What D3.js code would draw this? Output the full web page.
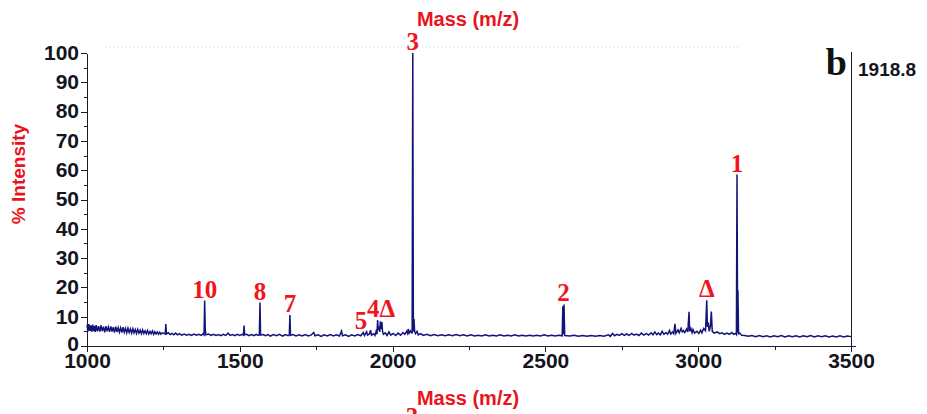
<!DOCTYPE html>
<html>
<head>
  <script src="https://d3js.org/d3.v7.min.js"></script>
  <style>
    body { margin: 0; background: #fff; }
    svg { display: block; }
    .axis path, .axis line { stroke: #1c1c28; fill: none; shape-rendering: crispEdges; }
    .axis text { font: bold 21px "Liberation Sans", Arial, sans-serif; fill: #14141e; }
    .red-title { font: bold 20px "Liberation Sans", Arial, sans-serif; fill: #e8141c; }
    .peak-label { font: bold 25px "Liberation Serif", "Times New Roman", serif; fill: #f0141c; }
  </style>
</head>
<body>
  <div id="chart"></div>

  <script>
    // spectrum, [m/z, % intensity]
    const spectrum = [
      [1000,7.2],[1003,5.0],[1006,7.5],[1009,5.2],[1012,7.0],[1015,4.9],[1018,7.3],[1021,5.1],[1024,6.9],[1027,4.8],
      [1030,7.1],[1034,5.0],[1038,6.8],[1042,4.9],[1046,7.0],[1050,5.1],[1054,6.6],[1058,4.7],[1062,6.8],[1066,5.0],
      [1070,6.5],[1074,4.8],[1078,6.7],[1082,4.9],[1086,6.4],[1090,4.6],[1094,6.6],[1098,4.8],[1102,6.3],[1106,4.7],
      [1110,6.2],[1114,4.6],[1118,6.4],[1122,4.7],[1126,6.0],[1130,4.5],[1134,6.1],[1138,4.6],[1142,5.8],[1146,4.4],
      [1150,5.9],[1154,4.5],[1158,5.6],[1162,4.3],[1166,5.7],[1170,4.4],[1174,5.4],[1178,4.2],[1182,5.5],[1186,4.3],
      [1190,5.2],[1194,4.2],[1198,5.3],[1202,4.1],[1206,5.0],[1210,4.2],[1214,5.1],[1218,4.0],[1222,4.9],[1226,4.1],
      [1230,4.8],[1234,4.0],[1238,4.7],[1242,4.0],[1246,4.5],[1256,4.1],[1258,7.5],[1260,4.1],[1266,4.5],[1272,3.9],
      [1278,4.3],[1284,3.8],[1290,4.4],[1296,3.8],[1302,4.2],[1310,3.7],[1318,4.1],[1326,3.7],[1334,4.0],[1342,3.6],
      [1350,4.1],[1358,3.7],[1366,4.0],[1374,3.6],[1380,4.2],[1383,3.8],[1385,15.5],[1387,5.6],[1389,3.8],[1398,4.1],
      [1406,3.6],[1414,4.0],[1422,3.6],[1430,3.9],[1438,3.5],[1446,4.0],[1454,3.6],[1462,4.4],[1468,3.6],[1476,3.9],
      [1484,3.5],[1492,4.0],[1500,3.6],[1508,4.0],[1512,3.7],[1514,7.0],[1516,3.8],[1522,4.0],[1530,3.5],[1538,3.9],
      [1546,3.5],[1554,4.0],[1560,3.6],[1564,3.8],[1566,14.8],[1568,3.7],[1576,3.9],[1584,3.5],[1592,3.9],[1600,3.4],
      [1610,3.9],[1620,3.5],[1630,4.0],[1640,3.4],[1650,3.9],[1658,3.5],[1662,3.8],[1664,10.6],[1666,3.6],[1674,3.9],
      [1684,3.4],[1694,3.8],[1704,3.4],[1714,3.9],[1724,3.4],[1734,3.8],[1742,4.6],[1746,3.5],[1756,3.8],[1766,3.3],
      [1776,3.8],[1786,3.4],[1796,3.9],[1806,3.4],[1816,3.8],[1826,3.4],[1833,5.1],[1836,3.5],[1846,3.8],[1856,3.3],
      [1866,3.8],[1876,3.4],[1886,3.9],[1896,3.5],[1904,4.6],[1908,3.6],[1915,4.9],[1918,3.7],[1924,4.1],[1928,5.4],
      [1931,3.7],[1938,4.2],[1942,3.6],[1946,5.0],[1949,4.0],[1951,8.9],[1953,5.5],[1956,6.2],[1958,4.8],[1960,8.4],
      [1962,5.8],[1965,8.2],[1967,5.0],[1970,4.0],[1976,4.5],[1982,3.6],[1988,4.8],[1994,3.7],[2002,4.3],[2010,3.6],
      [2018,4.4],[2026,3.7],[2034,4.6],[2040,4.0],[2046,5.0],[2049,4.3],[2051,5.8],[2054,4.4],[2058,5.2],[2061,4.6],
      [2064,4.5],[2066,100],[2068,5.0],[2070,9.2],[2072,5.0],[2075,4.2],[2080,5.0],[2084,3.8],[2092,4.2],[2100,3.6],
      [2112,4.0],[2124,3.5],[2136,3.9],[2148,3.5],[2160,3.8],[2172,3.5],[2184,3.8],[2196,3.5],[2208,3.9],[2220,3.5],
      [2232,3.8],[2244,3.4],[2256,3.8],[2268,3.4],[2280,3.7],[2292,3.4],[2304,3.8],[2316,3.4],[2328,3.7],[2340,3.4],
      [2352,3.8],[2364,3.4],[2376,3.7],[2388,3.4],[2400,3.8],[2412,3.4],[2424,3.7],[2436,3.4],[2448,3.7],[2460,3.4],
      [2472,3.7],[2484,3.4],[2496,3.8],[2508,3.4],[2520,3.7],[2532,3.4],[2544,3.7],[2555,3.5],[2557,13.6],[2559,4.0],
      [2561,14.2],[2563,3.6],[2572,3.5],[2580,3.4],[2594,3.7],[2608,3.3],[2622,3.6],[2636,3.3],[2650,3.6],[2664,3.3],
      [2678,3.6],[2692,3.3],[2706,3.8],[2712,3.3],[2720,4.3],[2726,3.5],[2734,4.0],[2742,3.6],[2750,4.2],[2758,3.6],
      [2766,4.1],[2774,3.6],[2782,4.3],[2790,3.7],[2798,4.1],[2806,3.6],[2814,4.4],[2822,3.7],[2830,4.2],[2838,3.7],
      [2846,4.5],[2852,3.8],[2858,4.8],[2864,3.9],[2870,4.4],[2876,3.8],[2882,5.0],[2888,4.0],[2894,4.6],[2900,4.0],
      [2906,5.3],[2910,4.1],[2916,4.8],[2920,4.2],[2924,7.6],[2927,4.3],[2934,5.5],[2938,4.5],[2944,6.0],[2948,4.8],
      [2952,5.2],[2956,4.6],[2962,5.8],[2966,4.8],[2970,11.7],[2972,5.0],[2976,6.0],[2980,4.5],[2983,5.6],[2988,4.4],
      [2996,5.0],[3002,4.3],[3008,5.4],[3012,4.5],[3018,6.0],[3024,5.2],[3028,15.6],[3030,6.5],[3033,8.0],[3036,5.0],
      [3040,6.8],[3043,11.8],[3046,5.0],[3052,4.4],[3062,4.8],[3070,4.2],[3078,4.5],[3086,4.0],[3094,4.4],[3102,4.0],
      [3110,4.6],[3116,4.0],[3122,4.3],[3125,3.9],[3127,58.5],[3129,4.5],[3130,19.0],[3132,4.2],[3136,4.4],[3142,3.7],
      [3152,3.6],[3164,3.3],[3176,3.6],[3188,3.2],[3200,3.6],[3212,3.2],[3224,3.5],[3236,3.1],[3248,3.5],[3260,3.2],
      [3272,3.6],[3284,3.1],[3296,3.5],[3308,3.2],[3320,3.5],[3332,3.1],[3344,3.5],[3356,3.2],[3368,3.6],[3380,3.1],
      [3392,3.5],[3404,3.2],[3416,3.5],[3428,3.1],[3440,3.4],[3452,3.1],[3464,3.5],[3476,3.1],[3488,3.4],[3500,3.2]
    ];

    // peak labels: text, m/z, intensity the label sits on
    const peakLabels = [
      ["3", 2066, 100],
      ["1", 3127, 58.5],
      ["10", 1385, 15.5],
      ["8", 1566, 14.8],
      ["7", 1664, 10.6],
      ["5", 1897, 4.8],
      ["4\u0394", 1962, 9.0],
      ["2", 2559, 14.2],
      ["\u0394", 3028, 15.6]
    ];

    const xTicks = [1000, 1500, 2000, 2500, 3000, 3500];
    const xMinorTicks = [1250, 1750, 2250, 2750, 3250];
    const yTicks = [0, 10, 20, 30, 40, 50, 60, 70, 80, 90, 100];
    const yMinorTicks = [5, 15, 25, 35, 45, 55, 65, 75, 85, 95];

    const width = 927, height = 414;
    const plotLeft = 87, plotRight = 851, plotTop = 53, plotBottom = 346;

    const svg = d3.select("#chart")
      .append("svg")
        .attr("width", width)
        .attr("height", height);

    const x = d3.scaleLinear().domain([1000, 3500]).range([plotLeft, plotRight]);
    const y = d3.scaleLinear().domain([0, 100]).range([plotBottom, plotTop]);

    // faint artefact line under the top title
    svg.append("line")
      .attr("x1", 105).attr("x2", 740)
      .attr("y1", 47).attr("y2", 47)
      .attr("stroke", "#dbe6f3")
      .attr("stroke-dasharray", "2,2");

    // titles
    svg.append("text")
      .attr("class", "red-title")
      .attr("text-anchor", "middle")
      .attr("x", 468).attr("y", 26)
      .text("Mass (m/z)");

    svg.append("text")
      .attr("class", "red-title")
      .attr("text-anchor", "middle")
      .attr("x", 468).attr("y", 405)
      .text("Mass (m/z)");

    svg.append("text")
      .attr("class", "red-title")
      .attr("text-anchor", "middle")
      .style("font-size", "19px")
      .attr("transform", "translate(25,174) rotate(-90)")
      .text("% Intensity");

    // clipped label from the panel below
    svg.append("text")
      .attr("class", "peak-label")
      .attr("text-anchor", "middle")
      .attr("x", 412).attr("y", 425)
      .text("3");

    // y axis
    svg.append("g")
      .attr("class", "axis")
      .attr("transform", `translate(${plotLeft},0)`)
      .call(d3.axisLeft(y).tickValues(yTicks).tickSize(6).tickSizeOuter(0).tickPadding(2))
      .selectAll(".tick text").attr("dy", d => d === 0 ? "0.22em" : "0.3em");

    svg.append("g")
      .attr("class", "axis")
      .attr("transform", `translate(${plotLeft},0)`)
      .call(d3.axisLeft(y).tickValues(yMinorTicks).tickSize(3).tickSizeOuter(0).tickFormat(""))
      .select(".domain").remove();

    // x axis
    const xAxis = svg.append("g")
      .attr("class", "axis")
      .attr("transform", `translate(0,${plotBottom})`)
      .call(d3.axisBottom(x).tickValues(xTicks).tickFormat(d3.format("d"))
        .tickSize(6).tickSizeOuter(0).tickPadding(1));
    xAxis.select(".domain").attr("d", `M${plotLeft},0.5H${plotRight + 5}`);

    svg.append("g")
      .attr("class", "axis")
      .attr("transform", `translate(0,${plotBottom})`)
      .call(d3.axisBottom(x).tickValues(xMinorTicks).tickSize(4).tickSizeOuter(0).tickFormat(""))
      .select(".domain").remove();

    // right frame line
    svg.append("line")
      .attr("x1", x(3500) + 0.5).attr("x2", x(3500) + 0.5)
      .attr("y1", y(100) - 1).attr("y2", plotBottom)
      .attr("stroke", "#1c1c28");

    // spectrum
    const line = d3.line()
      .x(d => x(d[0]))
      .y(d => y(d[1]));

    svg.append("path")
      .datum(spectrum)
      .attr("fill", "none")
      .attr("stroke", "#13137a")
      .attr("stroke-width", 1.5)
      .attr("stroke-linejoin", "miter")
      .attr("d", line);

    // peak labels
    svg.append("g")
      .selectAll("text")
      .data(peakLabels)
      .enter().append("text")
        .attr("class", "peak-label")
        .attr("text-anchor", "middle")
        .attr("x", d => x(d[1]))
        .attr("y", d => y(d[2]) - 3)
        .text(d => d[0]);

    // panel letter and reference mass
    svg.append("text")
      .attr("x", 847).attr("y", 75)
      .attr("text-anchor", "end")
      .style("font", "bold 38px 'Liberation Serif', 'Times New Roman', serif")
      .style("fill", "#111")
      .text("b");

    svg.append("text")
      .attr("x", 858).attr("y", 76)
      .style("font", "bold 19px 'Liberation Sans', Arial, sans-serif")
      .style("fill", "#14141e")
      .text("1918.8");
  </script>
</body>
</html>
